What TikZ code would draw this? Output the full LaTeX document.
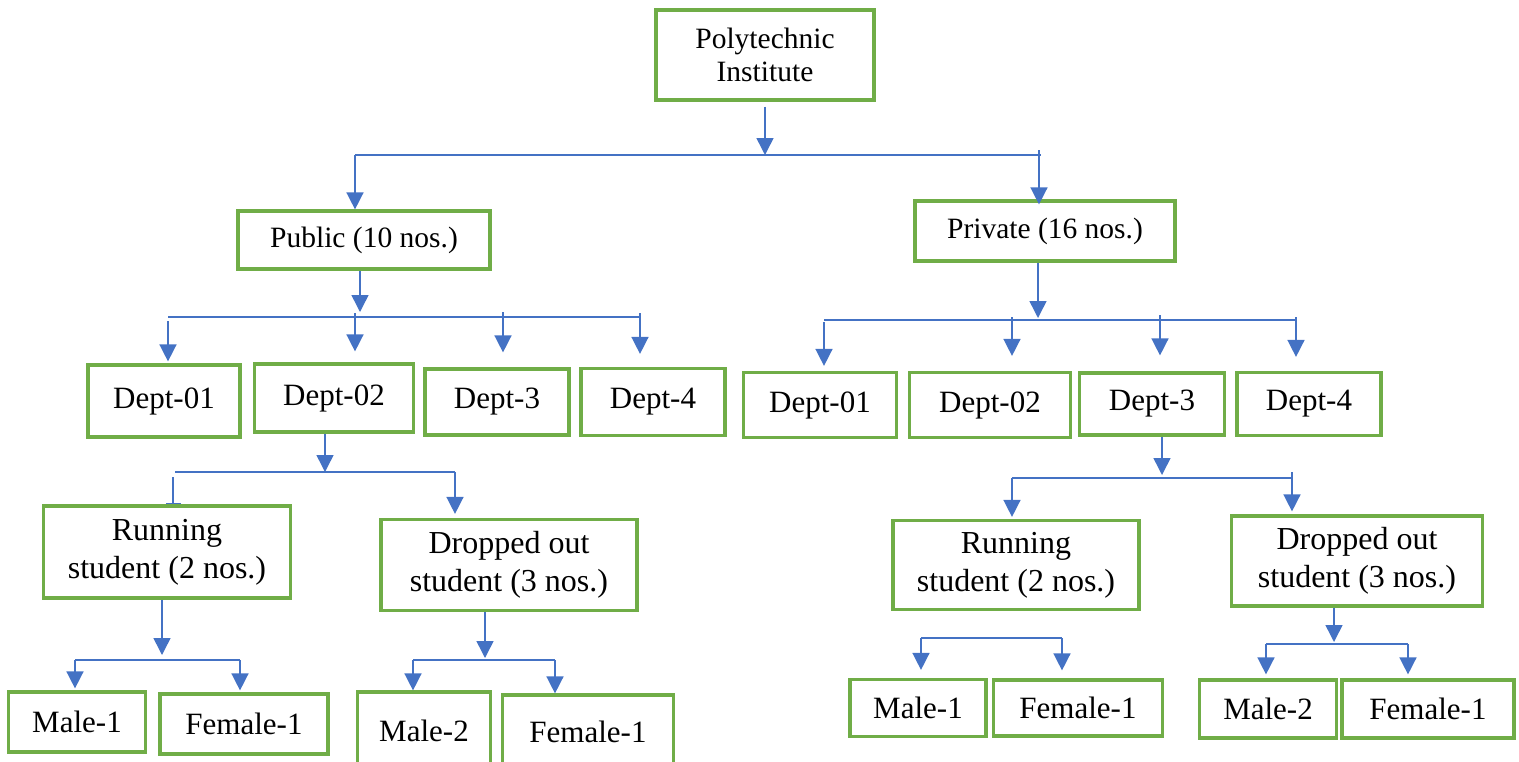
\documentclass[tikz,border=0pt]{standalone}
\usepackage{fontspec}
\setmainfont{Liberation Serif}
\usetikzlibrary{arrows.meta}
\definecolor{boxgreen}{RGB}{112,173,71}
\definecolor{linkblue}{RGB}{68,114,196}
\tikzset{
  box/.style={draw=boxgreen, line width=3.2pt, inner sep=0pt, align=center},
  link/.style={draw=linkblue, line width=1.5pt},
  arr/.style={link, -{Triangle[width=17pt,length=17pt]}},
  fhead/.style={font=\fontsize{29.5}{33}\selectfont},
  fdept/.style={font=\fontsize{31}{36}\selectfont},
  fstud/.style={font=\fontsize{32}{38}\selectfont},
  fsex/.style={font=\fontsize{31}{36}\selectfont},
}
\begin{document}
\begin{tikzpicture}[x=1pt,y=-1pt]
\useasboundingbox (0,0) rectangle (1519,761);
%% Nodes
\node[box, fhead, minimum width=218pt, minimum height=90pt] (inst) at (765,55) {Polytechnic\\Institute};
\node[box, fhead, minimum width=252pt, minimum height=58pt] (pub) at (364,240) {Public (10 nos.)};
\node[box, fhead, minimum width=260pt, minimum height=60pt] (priv) at (1045,231) {Private (16 nos.)};
% public departments
\node[box, fdept, minimum width=152pt, minimum height=72pt] (Ld1) at (164,401) {Dept-01};
\node[box, fdept, minimum width=159pt, minimum height=68pt] (Ld2) at (334,398) {Dept-02};
\node[box, fdept, minimum width=144pt, minimum height=66pt] (Ld3) at (497,402) {Dept-3};
\node[box, fdept, minimum width=144pt, minimum height=67pt] (Ld4) at (653,402) {Dept-4};
% private departments
\node[box, fdept, minimum width=153pt, minimum height=65pt] (Rd1) at (820,405) {Dept-01};
\node[box, fdept, minimum width=161pt, minimum height=65pt] (Rd2) at (990,405) {Dept-02};
\node[box, fdept, minimum width=145pt, minimum height=62pt] (Rd3) at (1152,404) {Dept-3};
\node[box, fdept, minimum width=144pt, minimum height=63pt] (Rd4) at (1309,404) {Dept-4};
% students
\node[box, fstud, minimum width=247pt, minimum height=92pt] (Lrun) at (167,552) {Running\\student (2 nos.)};
\node[box, fstud, minimum width=256pt, minimum height=91pt] (Ldrop) at (509,565) {Dropped out\\student (3 nos.)};
\node[box, fstud, minimum width=246pt, minimum height=89pt] (Rrun) at (1016,565) {Running\\student (2 nos.)};
\node[box, fstud, minimum width=251pt, minimum height=90pt] (Rdrop) at (1357,561) {Dropped out\\student (3 nos.)};
% male / female
\node[box, fsex, minimum width=137pt, minimum height=60pt] (Lm1) at (77,722) {Male-1};
\node[box, fsex, minimum width=168pt, minimum height=60pt] (Lf1) at (244,724) {Female-1};
\node[box, fsex, minimum width=133pt, minimum height=78pt] (Lm2) at (424,731) {Male-2};
\node[box, fsex, minimum width=171pt, minimum height=74pt] (Lf2) at (588,732) {Female-1};
\node[box, fsex, minimum width=136pt, minimum height=57pt] (Rm1) at (918,708) {Male-1};
\node[box, fsex, minimum width=169pt, minimum height=56pt] (Rf1) at (1078,708) {Female-1};
\node[box, fsex, minimum width=137pt, minimum height=58pt] (Rm2) at (1268,709) {Male-2};
\node[box, fsex, minimum width=172pt, minimum height=58pt] (Rf2) at (1428,709) {Female-1};
%% Edges
% Edge: inst -> pub, priv
\coordinate (iJ) at (765,155);
\coordinate (iL) at (355,155);
\coordinate (iR) at (1039,150);
\draw[arr, shorten <=5pt] (inst.south) -- (iJ);
\draw[link] (iL) -- (iL -| iR) -- ++(2,0);
\draw[arr] (iL) -- (iL |- pub.north);
\draw[arr, shorten >=-5pt] (iR) -- (iR |- priv.north);
% Edge: pub -> Ld1..Ld4
\coordinate (pJ) at (360,317);
\draw[arr, shorten >=5pt] (pJ |- pub.south) -- (pJ);
\draw[link] (168,317) -- (640,317);
\foreach \d/\x/\y/\g in {Ld1/168/321/2, Ld2/355/313/11, Ld3/503/312/15, Ld4/640/313/13}
  \draw[arr, shorten >=\g pt] (\x,\y) -- (\x,0 |- \d.north);
% Edge: priv -> Rd1..Rd4
\coordinate (qJ) at (1038,320);
\draw[arr, shorten >=2pt] (qJ |- priv.south) -- (qJ);
\draw[link] (824,320) -- (1297,320);
\foreach \d/\x/\y/\g in {Rd1/824/322/5, Rd2/1012/317/15, Rd3/1160/315/16, Rd4/1296/317/14}
  \draw[arr, shorten >=\g pt] (\x,\y) -- (\x,0 |- \d.north);
% Edge: Ld2 -> Lrun, Ldrop
\coordinate (aJ) at (325,472);
\coordinate (aL) at (173,477);
\coordinate (aR) at (455,472);
\draw[arr] (aJ |- Ld2.south) -- (aJ);
\draw[link] (175,472) -- (aR);
\draw[link, -{Bar[width=15pt]}] (aL) -- (aL |- Lrun.north);
\draw[arr, shorten >=4pt] (aR) -- (aR |- Ldrop.north);
% Edge: Rd3 -> Rrun, Rdrop
\coordinate (bJ) at (1162,478);
\coordinate (bL) at (1012,478);
\coordinate (bR) at (1292,472);
\draw[arr, shorten >=3pt] (bJ |- Rd3.south) -- (bJ);
\draw[link] (bL) -- (bL -| bR);
\draw[arr, shorten >=2pt] (bL) -- (bL |- Rrun.north);
\draw[arr, shorten >=3pt] (bR) -- (bR |- Rdrop.north);
% Edge: Lrun -> Lm1, Lf1
\coordinate (cJ) at (162,660);
\coordinate (cL) at (75,660);
\coordinate (cR) at (240,660);
\draw[arr, shorten >=5pt] (cJ |- Lrun.south) -- (cJ);
\draw[link] (cL) -- (cR);
\draw[arr, shorten >=2pt] (cL) -- (cL |- Lm1.north);
\draw[arr, shorten >=2pt] (cR) -- (cR |- Lf1.north);
% Edge: Ldrop -> Lm2, Lf2
\coordinate (dJ) at (485,660);
\coordinate (dL) at (413,660);
\coordinate (dR) at (555,660);
\draw[arr, shorten >=2pt] (dJ |- Ldrop.south) -- (dJ);
\draw[link] (dL) -- (dR);
\draw[arr] (dL) -- (dL |- Lm2.north);
\draw[arr] (dR) -- (dR |- Lf2.north);
% Edge: Rrun -> Rm1, Rf1
\coordinate (eL) at (921,638);
\coordinate (eR) at (1062,638);
\draw[link] (eL) -- (eR);
\draw[arr, shorten >=8pt] (eL) -- (eL |- Rm1.north);
\draw[arr, shorten >=8pt] (eR) -- (eR |- Rf1.north);
% Edge: Rdrop -> Rm2, Rf2
\coordinate (fJ) at (1334,644);
\coordinate (fL) at (1266,644);
\coordinate (fR) at (1408,644);
\draw[arr, shorten >=2pt] (fJ |- Rdrop.south) -- (fJ);
\draw[link] (fL) -- (fR);
\draw[arr, shorten >=4pt] (fL) -- (fL |- Rm2.north);
\draw[arr, shorten >=4pt] (fR) -- (fR |- Rf2.north);
\end{tikzpicture}
\end{document}
